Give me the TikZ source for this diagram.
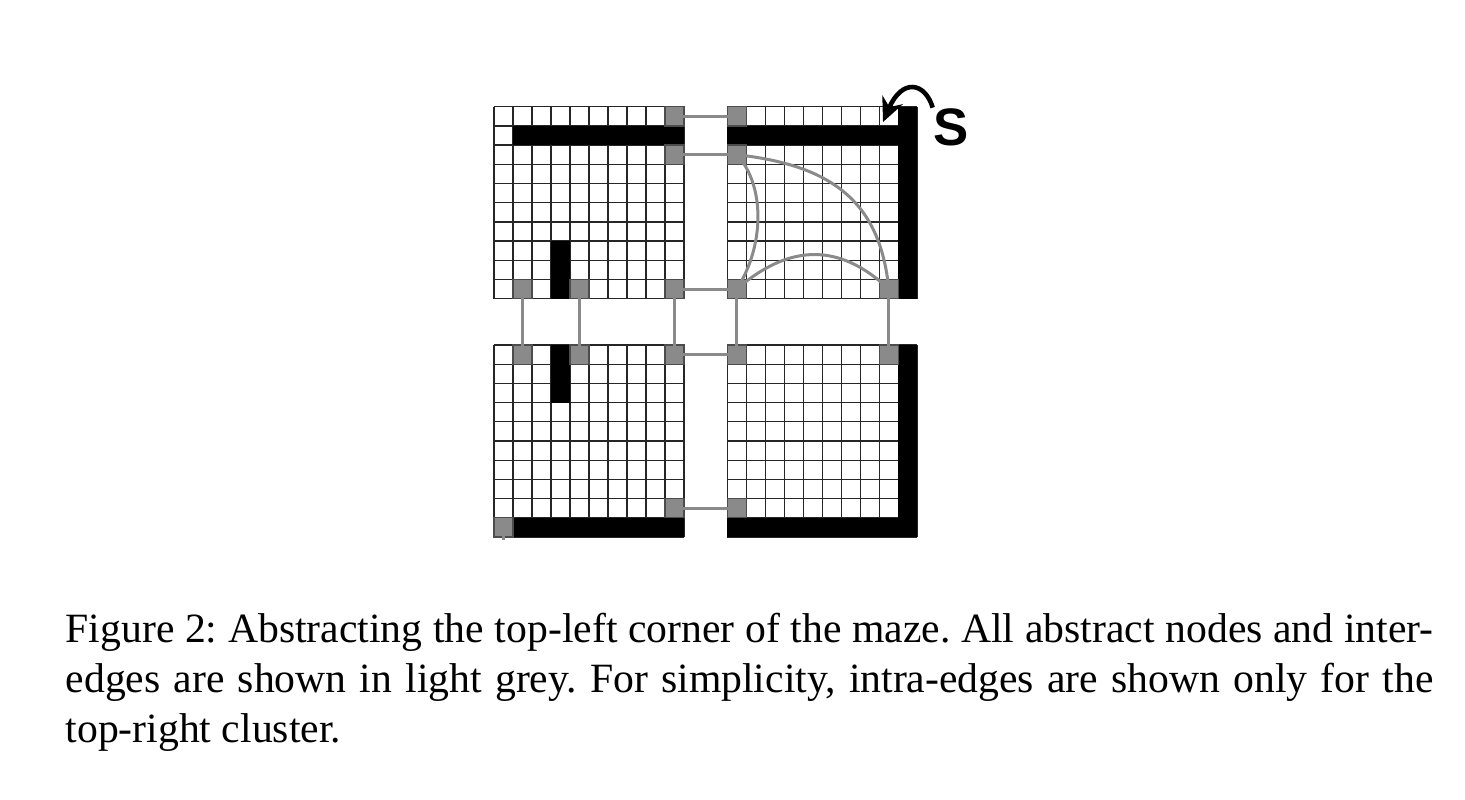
\documentclass[tikz,border=0pt]{standalone}
\usepackage{fontspec}
\setmainfont{Liberation Serif}
\setsansfont{Liberation Sans}
\usepackage{tikz}
\usetikzlibrary{arrows.meta,calc}
\definecolor{mzgrey}{HTML}{8A8A8A}
\newcommand{\cellw}{19}
\newcommand{\cellh}{19.2}

\begin{document}
\begin{tikzpicture}[x=0.01cm,y=-0.01cm,
  gl/.style={draw=black!85,line width=0.35pt},
  absn/.style={draw=black!70,line width=0.35pt,fill=mzgrey,inner sep=0pt,
               minimum width=0.19cm,minimum height=0.192cm},
  ie/.style={draw=mzgrey,line width=0.85pt},
  sarr/.style={-{Stealth[length=2.4mm,width=2.2mm]},line width=1.3pt},
  slab/.style={inner sep=0pt,font=\sffamily\bfseries\fontsize{15}{18}\selectfont},
  capt/.style={inner sep=0pt,text width=13.67cm,align=justify,
               font=\fontsize{11.85}{14.23}\selectfont\frenchspacing}]
\useasboundingbox (0,0) rectangle (1465,799);

\coordinate (TL) at (494,106.7);
\coordinate (TR) at (727.3,106.7);
\coordinate (BL) at (494,345);
\coordinate (BR) at (727.3,345);

% clusters
\foreach \c in {TL,TR,BL,BR} {
  \fill[white] (\c) rectangle ++({10*\cellw},{10*\cellh});
  \foreach \k in {0,...,10} {
    \draw[gl] ($(\c)+({\k*\cellw},0)$) -- ++(0,{10*\cellh});
    \draw[gl] ($(\c)+(0,{\k*\cellh})$) -- ++({10*\cellw},0);
  }
}

% walls
\foreach \c/\i/\j/\w/\h in {TL/2/2/9/1, TL/4/8/1/3, TR/1/2/9/1, TR/10/1/1/10,
                            BL/4/1/1/3, BL/2/10/9/1, BR/10/1/1/10, BR/1/10/9/1}
  \fill[black] ($(\c)+({(\i-1)*\cellw},{(\j-1)*\cellh})$) rectangle ++({\w*\cellw},{\h*\cellh});

% abstract nodes
\foreach \n/\c/\i/\j in {tl-a/TL/10/1, tl-b/TL/10/3, tl-c/TL/2/10, tl-d/TL/5/10, tl-e/TL/10/10,
                         tr-a/TR/1/1, tr-b/TR/1/3, tr-c/TR/1/10, tr-d/TR/9/10,
                         bl-a/BL/2/1, bl-b/BL/5/1, bl-c/BL/10/1, bl-d/BL/10/9, bl-e/BL/1/10,
                         br-a/BR/1/1, br-b/BR/9/1, br-c/BR/1/9}
  \node[absn] (\n) at ($(\c)+({(\i-0.5)*\cellw},{(\j-0.5)*\cellh})$) {};

% inter-edges
\foreach \a/\b in {tl-a/tr-a, tl-b/tr-b, tl-e/tr-c, tl-c/bl-a, tl-d/bl-b, tl-e/bl-c,
                   bl-c/br-a, bl-d/br-c, tr-c/br-a, tr-d/br-b}
  \draw[ie] (\a.center) -- (\b.center);
\coordinate (stub) at ($(bl-e.center)+(0,13)$);
\draw[ie] (bl-e.center) -- (stub);

% intra-edges, top-right cluster
\draw[ie] (tr-b.center) .. controls (830,165) and (880,200) .. (tr-d.center);
\draw[ie] (tr-b.center) .. controls (765,185) and (765,245) .. (tr-c.center);
\draw[ie] (tr-c.center) .. controls (790,243) and (840,243) .. (tr-d.center);

% start
\node[slab] (s) at (951,127) {S};
\coordinate (entry) at (883,122);
\draw[sarr] (s.north west) .. controls (925,82) and (902,78) .. (entry);

\node[capt,anchor=north west] (cap) at (65,612.5)
  {Figure 2: Abstracting the top-left corner of the maze. All abstract nodes and inter-\linebreak
   edges are shown in light grey. For simplicity, intra-edges are shown only for the\linebreak
   top-right cluster.};
\end{tikzpicture}
\end{document}
